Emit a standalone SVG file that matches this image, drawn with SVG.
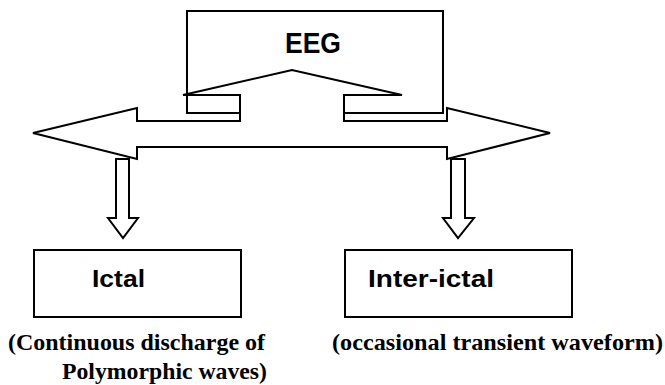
<svg xmlns="http://www.w3.org/2000/svg" width="665" height="385" viewBox="0 0 665 385">
<style>
.shape{fill:#fff;stroke:#000;stroke-width:2;stroke-linejoin:miter}
.lbl{font-family:"Liberation Sans",Arial,sans-serif;font-weight:bold;fill:#000;text-anchor:middle}
.cap{font-family:"Liberation Serif","Times New Roman",serif;font-weight:bold;font-size:22.5px;fill:#000}
</style>
<rect width="665" height="385" fill="#fff"/>
<g id="eeg">
<rect class="shape" x="187" y="11" width="256" height="102"/>
<text class="lbl" x="313" y="53" font-size="29" textLength="56" lengthAdjust="spacingAndGlyphs">EEG</text>
</g>
<g id="connectors">
<polygon class="shape" points="33,133 137,108 137,121 240,121 240,95 183,95 292,70 402,95 344,95 344,121 447,121 447,108 550,133 447,159 447,147 137,147 137,159"/>
<polygon class="shape" points="116,159 129,159 129,218 138,218 123,238 108,218 116,218"/>
<polygon class="shape" points="451,159 465,159 465,218 474,218 458,238 443,218 451,218"/>
</g>
<g id="ictal">
<rect class="shape" x="34" y="250" width="207" height="67"/>
<text class="lbl" x="118.5" y="287" font-size="23" textLength="53" lengthAdjust="spacingAndGlyphs">Ictal</text>
<text class="cap" x="8" y="350" textLength="257" lengthAdjust="spacingAndGlyphs">(Continuous discharge of</text>
<text class="cap" x="62" y="379" textLength="205" lengthAdjust="spacingAndGlyphs">Polymorphic waves)</text>
</g>
<g id="interictal">
<rect class="shape" x="345" y="250" width="227" height="67"/>
<text class="lbl" x="431" y="287" font-size="23" textLength="126" lengthAdjust="spacingAndGlyphs">Inter-ictal</text>
<text class="cap" x="332" y="350" textLength="331" lengthAdjust="spacingAndGlyphs">(occasional transient waveform)</text>
</g>
</svg>
